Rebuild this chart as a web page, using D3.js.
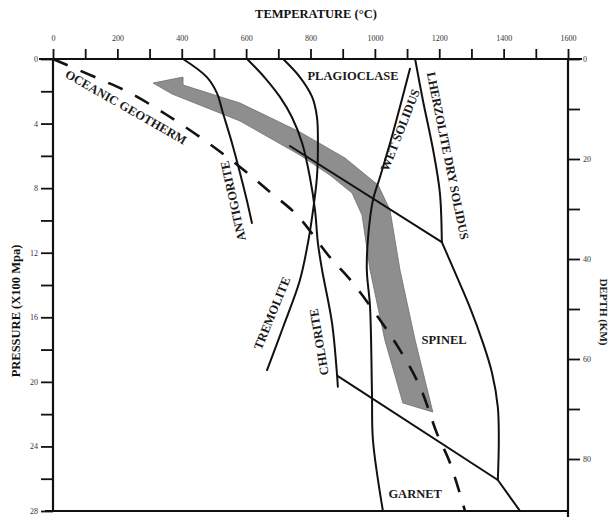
<!DOCTYPE html>
<html>
<head>
<meta charset="utf-8">
<script src="https://cdn.jsdelivr.net/npm/d3@7"></script>
<style>
  html, body { margin: 0; padding: 0; background: #fff; }
  svg { display: block; }
  text { font-family: "Liberation Serif", "Times New Roman", serif; }
</style>
</head>
<body>
<svg id="chart" width="612" height="517"></svg>
<script>
// ---------- data (temperature °C, pressure x100 MPa) ----------
const tempTicks = d3.range(0, 1601, 100);
const tempLabels = [0, 200, 400, 600, 800, 1000, 1200, 1400, 1600];
const pressureTicks = d3.range(0, 29, 2);
const pressureLabels = [0, 4, 8, 12, 16, 20, 24, 28];
const depthTicks = d3.range(0, 81, 10);
const depthLabels = [0, 20, 40, 60, 80];

const geothermT = [0, 137, 239, 354, 478, 581, 674, 758, 860, 932, 1016, 1078, 1140, 1193, 1233, 1280];
const geothermP = [0, 1.18, 2.1, 3.47, 5.14, 6.69, 8.24, 9.67, 12.27, 13.88, 16.17, 18.03, 20.3, 23.2, 25.0, 28];

const antigoriteT = [404, 478, 509, 528, 556, 581, 602, 618];
const antigoriteP = [0, 1.12, 2.1, 3.35, 5.2, 7.06, 8.74, 10.16];

const chloriteT = [603, 659, 705, 742, 774, 798, 814, 823, 836, 867, 882, 885];
const chloriteP = [0, 1.18, 2.35, 3.59, 5.2, 7.31, 9.36, 11.4, 13.07, 16.36, 19.45, 20.3];

const tremoliteT = [715, 767, 805, 820, 823, 820, 808, 792, 767, 715, 665];
const tremoliteP = [0, 1.12, 2.35, 3.59, 5.2, 7.31, 9.36, 11.4, 13.7, 16.6, 19.27];

const wetSolidusT = [1109, 1056, 1016, 994, 979, 975, 985, 991, 994, 1025];
const wetSolidusP = [0.6, 4.58, 7.31, 8.74, 11.03, 13.07, 15.37, 20.7, 23.6, 28];

const drySolidusUpperT = [1125, 1149, 1181, 1202, 1208];
const drySolidusUpperP = [0, 2.54, 5.64, 8.3, 11.34];
const drySolidusLowerT = [1208, 1255, 1295, 1336, 1364, 1382, 1385, 1382];
const drySolidusLowerP = [11.34, 13.5, 15.37, 17.6, 19.45, 21.56, 23.6, 26.08];
const drySolidusGarnetT = [1382, 1451];
const drySolidusGarnetP = [26.08, 28];

const plagSpinelT = [736, 1208];
const plagSpinelP = [5.39, 11.34];
const spinelGarnetT = [885, 1382];
const spinelGarnetP = [19.64, 26.08];

// P-T path (grey arrow) outline
const arrowT = [311, 404, 404, 581, 767, 907, 1010, 1047, 1078, 1125, 1180, 1087, 1031, 985, 960, 929, 860, 767, 581, 370];
const arrowP = [1.49, 1.12, 1.61, 2.73, 4.52, 6.13, 7.81, 9.36, 13.07, 17.41, 21.87, 21.31, 17.41, 13.07, 9.67, 8.3, 7.19, 5.95, 3.84, 2.17];

const labelTexts = ["OCEANIC GEOTHERM", "PLAGIOCLASE", "WET SOLIDUS", "LHERZOLITE DRY SOLIDUS",
                    "ANTIGORITE", "TREMOLITE", "CHLORITE", "SPINEL", "GARNET"];
const labelT = [227, 932, 1078, 1227, 559, 680, 826, 1215, 1125];
const labelP = [2.97, 1.05, 4.4, 6.0, 8.8, 15.74, 17.53, 17.41, 26.9];

// ---------- layout ----------
const L = 53, R = 568, T0 = 59, B = 511;
const svg = d3.select("#chart");
const x = d3.scaleLinear().domain([0, 1600]).range([L, R]);
const y = d3.scaleLinear().domain([0, 28]).range([T0, B]);
const yDepth = d3.scaleLinear().domain([0, 80]).range([T0, T0 + 400]);

const zip = (a, b) => a.map((v, i) => [v, b[i]]);
const line = d3.line().x(d => x(d[0])).y(d => y(d[1]));
const smooth = d3.line().x(d => x(d[0])).y(d => y(d[1])).curve(d3.curveCatmullRom.alpha(0.5));

// arrow
svg.append("path")
  .attr("d", line(zip(arrowT, arrowP)) + "Z")
  .attr("fill", "#8e8e8e")
  .attr("stroke", "#6e6e6e")
  .attr("stroke-width", 0.8);

const lineStyle = sel => sel.attr("fill", "none").attr("stroke", "#111").attr("stroke-width", 2)
  .attr("stroke-linejoin", "round").attr("stroke-linecap", "round");

// curves
[[antigoriteT, antigoriteP], [chloriteT, chloriteP], [tremoliteT, tremoliteP],
 [wetSolidusT, wetSolidusP], [drySolidusUpperT, drySolidusUpperP], [drySolidusLowerT, drySolidusLowerP]]
  .forEach(([t, p]) => svg.append("path").attr("d", smooth(zip(t, p))).call(lineStyle));

[[drySolidusGarnetT, drySolidusGarnetP], [plagSpinelT, plagSpinelP], [spinelGarnetT, spinelGarnetP]]
  .forEach(([t, p]) => svg.append("path").attr("d", line(zip(t, p))).call(lineStyle));

// geotherm dashed
svg.append("path").attr("d", smooth(zip(geothermT, geothermP)))
  .call(lineStyle).attr("stroke-width", 2.6).attr("stroke-linecap", "butt")
  .attr("stroke-dasharray", "16,14");

// ---------- axes ----------
const axisStyle = g => {
  g.selectAll("path.domain").remove();
  g.selectAll(".tick line").attr("stroke", "#111").attr("stroke-width", 1.8);
  g.selectAll(".tick text").attr("font-size", 8).attr("fill", "#333")
    .attr("font-family", "Liberation Serif, serif");
};

svg.append("g").attr("transform", `translate(0,${T0})`)
  .call(d3.axisTop(x).tickValues(tempTicks).tickSize(10).tickSizeOuter(0)
    .tickFormat(d => tempLabels.includes(d) ? d : ""))
  .call(axisStyle)
  .call(g => g.selectAll(".tick text").attr("dy", "-0.6em"));

svg.append("g").attr("transform", `translate(${L},0)`)
  .call(d3.axisLeft(y).tickValues(pressureTicks).tickSize(12).tickSizeOuter(0)
    .tickFormat(d => pressureLabels.includes(d) ? d : ""))
  .call(axisStyle);

svg.append("g").attr("transform", `translate(${R},0)`)
  .call(d3.axisRight(yDepth).tickValues(depthTicks).tickSize(12).tickSizeOuter(0)
    .tickFormat(d => depthLabels.includes(d) ? d : ""))
  .call(axisStyle);

// frame lines
const frame = svg.append("g").attr("stroke", "#111").attr("stroke-width", 2.2).attr("fill", "none");
frame.append("line").attr("x1", x(0) - 14).attr("x2", x(1600) + 14).attr("y1", y(0)).attr("y2", y(0));
frame.append("line").attr("x1", x(0)).attr("x2", x(0)).attr("y1", y(0)).attr("y2", y(28));
frame.append("line").attr("x1", x(1600)).attr("x2", x(1600)).attr("y1", y(0)).attr("y2", y(28) + 6);
frame.append("line").attr("x1", x(0) - 8).attr("x2", x(1600)).attr("y1", y(28)).attr("y2", y(28));

// axis titles
svg.append("text").attr("x", 316).attr("y", 18).attr("text-anchor", "middle")
  .attr("font-size", 12.5).attr("font-weight", "bold").attr("fill", "#111")
  .text("TEMPERATURE (°C)");
svg.append("text").attr("transform", "translate(20,311) rotate(-90)").attr("text-anchor", "middle")
  .attr("font-size", 12.5).attr("font-weight", "bold").attr("fill", "#111")
  .text("PRESSURE (X100 Mpa)");
svg.append("text").attr("transform", "translate(600,312) rotate(90)").attr("text-anchor", "middle")
  .attr("font-size", 11).attr("font-weight", "bold").attr("fill", "#222")
  .text("DEPTH (KM)");

// field / curve labels
const labelAngle = [29.7, 0, -68.4, 78.5, -102.5, -67.7, -99.7, 0, 0];
labelTexts.forEach((t, i) => {
  svg.append("text")
    .attr("transform", `translate(${x(labelT[i])},${y(labelP[i])}) rotate(${labelAngle[i]})`)
    .attr("text-anchor", "middle").attr("dy", "0.35em")
    .attr("font-size", 12.5).attr("font-weight", "bold").attr("fill", "#1a1a1a")
    .text(t);
});
</script>
</body>
</html>
